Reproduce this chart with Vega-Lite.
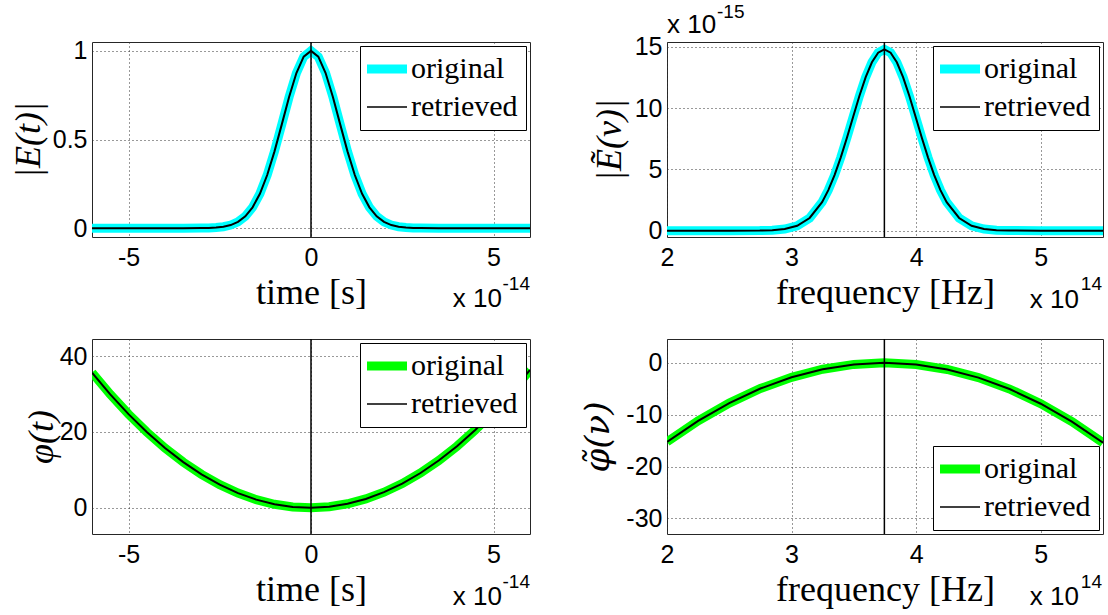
{
  "$schema": "https://vega.github.io/schema/vega-lite/v6.json",
  "autosize": {"type": "none"},
  "padding": {"left": 92, "top": 42, "right": 1016, "bottom": 573},
  "background": "white",
  "bounds": "flush",
  "columns": 2,
  "spacing": {"row": 102, "column": 137},
  "resolve": {"scale": {"color": "independent", "x": "independent", "y": "independent"}, "legend": {"color": "independent"}},
  "datasets": {
    "pulseTime": [
      {"t": -6, "original": 0, "retrieved": 0},
      {"t": -5, "original": 0, "retrieved": 0},
      {"t": -4, "original": 0, "retrieved": 0},
      {"t": -3.5, "original": 0.00003, "retrieved": 0.00003},
      {"t": -3, "original": 0.0005, "retrieved": 0.0005},
      {"t": -2.8, "original": 0.0014, "retrieved": 0.0014},
      {"t": -2.6, "original": 0.0035, "retrieved": 0.0035},
      {"t": -2.4, "original": 0.0081, "retrieved": 0.0081},
      {"t": -2.2, "original": 0.0174, "retrieved": 0.0174},
      {"t": -2, "original": 0.0352, "retrieved": 0.0352},
      {"t": -1.8, "original": 0.0665, "retrieved": 0.0665},
      {"t": -1.6, "original": 0.1174, "retrieved": 0.1174},
      {"t": -1.4, "original": 0.194, "retrieved": 0.194},
      {"t": -1.2, "original": 0.2997, "retrieved": 0.2997},
      {"t": -1, "original": 0.4331, "retrieved": 0.4331},
      {"t": -0.8, "original": 0.5853, "retrieved": 0.5853},
      {"t": -0.6, "original": 0.7399, "retrieved": 0.7399},
      {"t": -0.4, "original": 0.8747, "retrieved": 0.8747},
      {"t": -0.2, "original": 0.967, "retrieved": 0.967},
      {"t": 0, "original": 1, "retrieved": 1},
      {"t": 0.2, "original": 0.967, "retrieved": 0.967},
      {"t": 0.4, "original": 0.8747, "retrieved": 0.8747},
      {"t": 0.6, "original": 0.7399, "retrieved": 0.7399},
      {"t": 0.8, "original": 0.5853, "retrieved": 0.5853},
      {"t": 1, "original": 0.4331, "retrieved": 0.4331},
      {"t": 1.2, "original": 0.2997, "retrieved": 0.2997},
      {"t": 1.4, "original": 0.194, "retrieved": 0.194},
      {"t": 1.6, "original": 0.1174, "retrieved": 0.1174},
      {"t": 1.8, "original": 0.0665, "retrieved": 0.0665},
      {"t": 2, "original": 0.0352, "retrieved": 0.0352},
      {"t": 2.2, "original": 0.0174, "retrieved": 0.0174},
      {"t": 2.4, "original": 0.0081, "retrieved": 0.0081},
      {"t": 2.6, "original": 0.0035, "retrieved": 0.0035},
      {"t": 2.8, "original": 0.0014, "retrieved": 0.0014},
      {"t": 3, "original": 0.0005, "retrieved": 0.0005},
      {"t": 3.5, "original": 0.00003, "retrieved": 0.00003},
      {"t": 4, "original": 0, "retrieved": 0},
      {"t": 5, "original": 0, "retrieved": 0},
      {"t": 6, "original": 0, "retrieved": 0}
    ],
    "spectrum": [
      {"nu": 2.0, "original": 0, "retrieved": 0},
      {"nu": 2.5, "original": 0, "retrieved": 0},
      {"nu": 2.745, "original": 0.009, "retrieved": 0.009},
      {"nu": 2.845, "original": 0.037, "retrieved": 0.037},
      {"nu": 2.945, "original": 0.13, "retrieved": 0.13},
      {"nu": 3.045, "original": 0.395, "retrieved": 0.395},
      {"nu": 3.145, "original": 1.032, "retrieved": 1.032},
      {"nu": 3.245, "original": 2.329, "retrieved": 2.329},
      {"nu": 3.295, "original": 3.31, "retrieved": 3.31},
      {"nu": 3.345, "original": 4.532, "retrieved": 4.532},
      {"nu": 3.395, "original": 5.981, "retrieved": 5.981},
      {"nu": 3.445, "original": 7.606, "retrieved": 7.606},
      {"nu": 3.495, "original": 9.321, "retrieved": 9.321},
      {"nu": 3.545, "original": 11.01, "retrieved": 11.01},
      {"nu": 3.595, "original": 12.531, "retrieved": 12.531},
      {"nu": 3.645, "original": 13.745, "retrieved": 13.745},
      {"nu": 3.695, "original": 14.529, "retrieved": 14.529},
      {"nu": 3.745, "original": 14.8, "retrieved": 14.8},
      {"nu": 3.795, "original": 14.529, "retrieved": 14.529},
      {"nu": 3.845, "original": 13.745, "retrieved": 13.745},
      {"nu": 3.895, "original": 12.531, "retrieved": 12.531},
      {"nu": 3.945, "original": 11.01, "retrieved": 11.01},
      {"nu": 3.995, "original": 9.321, "retrieved": 9.321},
      {"nu": 4.045, "original": 7.606, "retrieved": 7.606},
      {"nu": 4.095, "original": 5.981, "retrieved": 5.981},
      {"nu": 4.145, "original": 4.532, "retrieved": 4.532},
      {"nu": 4.195, "original": 3.31, "retrieved": 3.31},
      {"nu": 4.245, "original": 2.329, "retrieved": 2.329},
      {"nu": 4.345, "original": 1.032, "retrieved": 1.032},
      {"nu": 4.445, "original": 0.395, "retrieved": 0.395},
      {"nu": 4.545, "original": 0.13, "retrieved": 0.13},
      {"nu": 4.645, "original": 0.037, "retrieved": 0.037},
      {"nu": 4.745, "original": 0.009, "retrieved": 0.009},
      {"nu": 5.0, "original": 0, "retrieved": 0},
      {"nu": 5.5, "original": 0, "retrieved": 0}
    ],
    "phaseTime": [
      {"t": -6, "original": 35.64, "retrieved": 35.64},
      {"t": -5.5, "original": 29.92, "retrieved": 29.92},
      {"t": -5, "original": 24.7, "retrieved": 24.7},
      {"t": -4.5, "original": 19.98, "retrieved": 19.98},
      {"t": -4, "original": 15.76, "retrieved": 15.76},
      {"t": -3.5, "original": 12.04, "retrieved": 12.04},
      {"t": -3, "original": 8.82, "retrieved": 8.82},
      {"t": -2.5, "original": 6.1, "retrieved": 6.1},
      {"t": -2, "original": 3.88, "retrieved": 3.88},
      {"t": -1.5, "original": 2.16, "retrieved": 2.16},
      {"t": -1, "original": 0.94, "retrieved": 0.94},
      {"t": -0.5, "original": 0.22, "retrieved": 0.22},
      {"t": 0, "original": 0, "retrieved": 0},
      {"t": 0.5, "original": 0.28, "retrieved": 0.28},
      {"t": 1, "original": 1.06, "retrieved": 1.06},
      {"t": 1.5, "original": 2.34, "retrieved": 2.34},
      {"t": 2, "original": 4.12, "retrieved": 4.12},
      {"t": 2.5, "original": 6.4, "retrieved": 6.4},
      {"t": 3, "original": 9.18, "retrieved": 9.18},
      {"t": 3.5, "original": 12.46, "retrieved": 12.46},
      {"t": 4, "original": 16.24, "retrieved": 16.24},
      {"t": 4.5, "original": 20.52, "retrieved": 20.52},
      {"t": 5, "original": 25.3, "retrieved": 25.3},
      {"t": 5.5, "original": 30.58, "retrieved": 30.58},
      {"t": 6, "original": 36.36, "retrieved": 36.36}
    ],
    "phaseSpec": [
      {"nu": 2.0, "original": -15.23, "retrieved": -15.23},
      {"nu": 2.25, "original": -11.18, "retrieved": -11.18},
      {"nu": 2.5, "original": -7.75, "retrieved": -7.75},
      {"nu": 2.75, "original": -4.95, "retrieved": -4.95},
      {"nu": 3.0, "original": -2.78, "retrieved": -2.78},
      {"nu": 3.25, "original": -1.23, "retrieved": -1.23},
      {"nu": 3.5, "original": -0.3, "retrieved": -0.3},
      {"nu": 3.745, "original": 0, "retrieved": 0},
      {"nu": 4.0, "original": -0.33, "retrieved": -0.33},
      {"nu": 4.25, "original": -1.28, "retrieved": -1.28},
      {"nu": 4.5, "original": -2.85, "retrieved": -2.85},
      {"nu": 4.75, "original": -5.05, "retrieved": -5.05},
      {"nu": 5.0, "original": -7.88, "retrieved": -7.88},
      {"nu": 5.25, "original": -11.33, "retrieved": -11.33},
      {"nu": 5.5, "original": -15.4, "retrieved": -15.4}
    ],
    "timeNotes": [
      {"center": 0, "tmax": 6, "base": "x 10", "power": "-14"}
    ],
    "freqNotes": [
      {"center": 3.745, "nmin": 2, "nmax": 5.5, "base": "x 10", "power": "14", "ypower": "-15"}
    ]
  },
  "concat": [
    {
      "width": 438,
      "height": 195,
      "layer": [
        {
          "data": {"name": "pulseTime"},
          "transform": [{"fold": ["original", "retrieved"], "as": ["series", "value"]}, {"filter": "datum.series === 'original'"}],
          "mark": {"type": "line", "strokeWidth": 9, "clip": true},
          "encoding": {
            "x": {"field": "t", "type": "quantitative", "scale": {"domain": [-6, 6], "nice": false, "zero": false},
                  "axis": {"values": [-5, 0, 5], "title": "time [s]", "titleY": 66, "titleBaseline": "alphabetic"}},
            "y": {"field": "value", "type": "quantitative", "scale": {"domain": [-0.05, 1.05], "nice": false, "zero": false},
                  "axis": {"values": [0, 0.5, 1], "title": "|E(t)|", "titleX": -64, "titleBaseline": "middle", "titleFontStyle": "italic"}},
            "color": {"field": "series", "type": "nominal",
                      "scale": {"domain": ["original", "retrieved"], "range": ["#00FFFF", "#000000"]},
                      "legend": {"title": null, "orient": "top-right",
                                 "encode": {"symbols": {"update": {"strokeWidth": {"signal": "datum.value === 'original' ? 9 : 1.5"}}}}}}
          }
        },
        {
          "data": {"name": "pulseTime"},
          "transform": [{"fold": ["original", "retrieved"], "as": ["series", "value"]}, {"filter": "datum.series === 'retrieved'"}],
          "mark": {"type": "line", "strokeWidth": 2, "clip": true},
          "encoding": {
            "x": {"field": "t", "type": "quantitative"},
            "y": {"field": "value", "type": "quantitative"},
            "color": {"field": "series", "type": "nominal"}
          }
        },
        {
          "data": {"name": "timeNotes"},
          "mark": {"type": "rule", "color": "black", "strokeWidth": 1.5},
          "encoding": {"x": {"field": "center", "type": "quantitative"}}
        },
        {
          "data": {"name": "timeNotes"},
          "mark": {"type": "text", "align": "right", "baseline": "alphabetic", "dx": -28, "dy": 70, "font": "Liberation Sans", "fontSize": 26, "fill": "black"},
          "encoding": {"x": {"field": "tmax", "type": "quantitative"}, "y": {"datum": -0.05}, "text": {"field": "base"}}
        },
        {
          "data": {"name": "timeNotes"},
          "mark": {"type": "text", "align": "right", "baseline": "alphabetic", "dx": 0, "dy": 53, "font": "Liberation Sans", "fontSize": 19, "fill": "black"},
          "encoding": {"x": {"field": "tmax", "type": "quantitative"}, "y": {"datum": -0.05}, "text": {"field": "power"}}
        }
      ]
    },
    {
      "width": 436,
      "height": 195,
      "layer": [
        {
          "data": {"name": "spectrum"},
          "transform": [{"fold": ["original", "retrieved"], "as": ["series", "value"]}, {"filter": "datum.series === 'original'"}],
          "mark": {"type": "line", "strokeWidth": 9, "clip": true},
          "encoding": {
            "x": {"field": "nu", "type": "quantitative", "scale": {"domain": [2, 5.5], "nice": false, "zero": false},
                  "axis": {"values": [2, 3, 4, 5], "title": "frequency [Hz]", "titleY": 66, "titleBaseline": "alphabetic"}},
            "y": {"field": "value", "type": "quantitative", "scale": {"domain": [-0.52, 15.4], "nice": false, "zero": false},
                  "axis": {"values": [0, 5, 10, 15], "title": "|Ẽ(ν)|", "titleX": -58, "titleBaseline": "middle", "titleFontStyle": "italic"}},
            "color": {"field": "series", "type": "nominal",
                      "scale": {"domain": ["original", "retrieved"], "range": ["#00FFFF", "#000000"]},
                      "legend": {"title": null, "orient": "top-right",
                                 "encode": {"symbols": {"update": {"strokeWidth": {"signal": "datum.value === 'original' ? 9 : 1.5"}}}}}}
          }
        },
        {
          "data": {"name": "spectrum"},
          "transform": [{"fold": ["original", "retrieved"], "as": ["series", "value"]}, {"filter": "datum.series === 'retrieved'"}],
          "mark": {"type": "line", "strokeWidth": 2, "clip": true},
          "encoding": {
            "x": {"field": "nu", "type": "quantitative"},
            "y": {"field": "value", "type": "quantitative"},
            "color": {"field": "series", "type": "nominal"}
          }
        },
        {
          "data": {"name": "freqNotes"},
          "mark": {"type": "rule", "color": "black", "strokeWidth": 1.5},
          "encoding": {"x": {"field": "center", "type": "quantitative"}}
        },
        {
          "data": {"name": "freqNotes"},
          "mark": {"type": "text", "align": "right", "baseline": "alphabetic", "dx": -24, "dy": 71, "font": "Liberation Sans", "fontSize": 26, "fill": "black"},
          "encoding": {"x": {"field": "nmax", "type": "quantitative"}, "y": {"datum": -0.52}, "text": {"field": "base"}}
        },
        {
          "data": {"name": "freqNotes"},
          "mark": {"type": "text", "align": "right", "baseline": "alphabetic", "dx": -1, "dy": 53, "font": "Liberation Sans", "fontSize": 19, "fill": "black"},
          "encoding": {"x": {"field": "nmax", "type": "quantitative"}, "y": {"datum": -0.52}, "text": {"field": "power"}}
        },
        {
          "data": {"name": "freqNotes"},
          "mark": {"type": "text", "align": "left", "baseline": "alphabetic", "dx": 0, "dy": -9, "font": "Liberation Sans", "fontSize": 26, "fill": "black"},
          "encoding": {"x": {"field": "nmin", "type": "quantitative"}, "y": {"datum": 15.4}, "text": {"field": "base"}}
        },
        {
          "data": {"name": "freqNotes"},
          "mark": {"type": "text", "align": "left", "baseline": "alphabetic", "dx": 50, "dy": -24, "font": "Liberation Sans", "fontSize": 19, "fill": "black"},
          "encoding": {"x": {"field": "nmin", "type": "quantitative"}, "y": {"datum": 15.4}, "text": {"field": "ypower"}}
        }
      ]
    },
    {
      "width": 438,
      "height": 195,
      "layer": [
        {
          "data": {"name": "phaseTime"},
          "transform": [{"fold": ["original", "retrieved"], "as": ["series", "value"]}, {"filter": "datum.series === 'original'"}],
          "mark": {"type": "line", "strokeWidth": 9, "clip": true},
          "encoding": {
            "x": {"field": "t", "type": "quantitative", "scale": {"domain": [-6, 6], "nice": false, "zero": false},
                  "axis": {"values": [-5, 0, 5], "title": "time [s]", "titleY": 66, "titleBaseline": "alphabetic"}},
            "y": {"field": "value", "type": "quantitative", "scale": {"domain": [-6.9, 44.5], "nice": false, "zero": false},
                  "axis": {"values": [0, 20, 40], "title": "φ(t)", "titleX": -51, "titleBaseline": "middle", "titleFontStyle": "italic"}},
            "color": {"field": "series", "type": "nominal",
                      "scale": {"domain": ["original", "retrieved"], "range": ["#00FF00", "#000000"]},
                      "legend": {"title": null, "orient": "top-right",
                                 "encode": {"symbols": {"update": {"strokeWidth": {"signal": "datum.value === 'original' ? 9 : 1.5"}}}}}}
          }
        },
        {
          "data": {"name": "phaseTime"},
          "transform": [{"fold": ["original", "retrieved"], "as": ["series", "value"]}, {"filter": "datum.series === 'retrieved'"}],
          "mark": {"type": "line", "strokeWidth": 2, "clip": true},
          "encoding": {
            "x": {"field": "t", "type": "quantitative"},
            "y": {"field": "value", "type": "quantitative"},
            "color": {"field": "series", "type": "nominal"}
          }
        },
        {
          "data": {"name": "timeNotes"},
          "mark": {"type": "rule", "color": "black", "strokeWidth": 1.5},
          "encoding": {"x": {"field": "center", "type": "quantitative"}}
        },
        {
          "data": {"name": "timeNotes"},
          "mark": {"type": "text", "align": "right", "baseline": "alphabetic", "dx": -28, "dy": 71, "font": "Liberation Sans", "fontSize": 26, "fill": "black"},
          "encoding": {"x": {"field": "tmax", "type": "quantitative"}, "y": {"datum": -6.9}, "text": {"field": "base"}}
        },
        {
          "data": {"name": "timeNotes"},
          "mark": {"type": "text", "align": "right", "baseline": "alphabetic", "dx": 0, "dy": 54, "font": "Liberation Sans", "fontSize": 19, "fill": "black"},
          "encoding": {"x": {"field": "tmax", "type": "quantitative"}, "y": {"datum": -6.9}, "text": {"field": "power"}}
        }
      ]
    },
    {
      "width": 436,
      "height": 195,
      "layer": [
        {
          "data": {"name": "phaseSpec"},
          "transform": [{"fold": ["original", "retrieved"], "as": ["series", "value"]}, {"filter": "datum.series === 'original'"}],
          "mark": {"type": "line", "strokeWidth": 9, "clip": true},
          "encoding": {
            "x": {"field": "nu", "type": "quantitative", "scale": {"domain": [2, 5.5], "nice": false, "zero": false},
                  "axis": {"values": [2, 3, 4, 5], "title": "frequency [Hz]", "titleY": 66, "titleBaseline": "alphabetic"}},
            "y": {"field": "value", "type": "quantitative", "scale": {"domain": [-33, 4.6], "nice": false, "zero": false},
                  "axis": {"values": [-30, -20, -10, 0], "title": "φ̃(ν)", "titleX": -69, "titleBaseline": "middle", "titleFontStyle": "italic", "titleFont": "DejaVu Serif", "titleFontSize": 34}},
            "color": {"field": "series", "type": "nominal",
                      "scale": {"domain": ["original", "retrieved"], "range": ["#00FF00", "#000000"]},
                      "legend": {"title": null, "orient": "bottom-right",
                                 "encode": {"symbols": {"update": {"strokeWidth": {"signal": "datum.value === 'original' ? 9 : 1.5"}}}}}}
          }
        },
        {
          "data": {"name": "phaseSpec"},
          "transform": [{"fold": ["original", "retrieved"], "as": ["series", "value"]}, {"filter": "datum.series === 'retrieved'"}],
          "mark": {"type": "line", "strokeWidth": 2, "clip": true},
          "encoding": {
            "x": {"field": "nu", "type": "quantitative"},
            "y": {"field": "value", "type": "quantitative"},
            "color": {"field": "series", "type": "nominal"}
          }
        },
        {
          "data": {"name": "freqNotes"},
          "mark": {"type": "rule", "color": "black", "strokeWidth": 1.5},
          "encoding": {"x": {"field": "center", "type": "quantitative"}}
        },
        {
          "data": {"name": "freqNotes"},
          "mark": {"type": "text", "align": "right", "baseline": "alphabetic", "dx": -24, "dy": 71, "font": "Liberation Sans", "fontSize": 26, "fill": "black"},
          "encoding": {"x": {"field": "nmax", "type": "quantitative"}, "y": {"datum": -33}, "text": {"field": "base"}}
        },
        {
          "data": {"name": "freqNotes"},
          "mark": {"type": "text", "align": "right", "baseline": "alphabetic", "dx": -1, "dy": 54, "font": "Liberation Sans", "fontSize": 19, "fill": "black"},
          "encoding": {"x": {"field": "nmax", "type": "quantitative"}, "y": {"datum": -33}, "text": {"field": "power"}}
        }
      ]
    }
  ],
  "config": {
    "view": {"stroke": "#262626", "strokeWidth": 1},
    "axis": {
      "domain": false,
      "ticks": false,
      "grid": true,
      "gridDash": [1, 3],
      "gridColor": "#333333",
      "gridWidth": 1,
      "labelFont": "Liberation Sans",
      "labelFontSize": 25,
      "labelColor": "black",
      "labelFlush": false,
      "labelOverlap": false,
      "labelExpr": "'' + datum.value",
      "titleFont": "Liberation Serif",
      "titleFontSize": 36,
      "titleFontWeight": "normal",
      "titleColor": "black"
    },
    "axisX": {"labelPadding": 8},
    "axisY": {"labelPadding": 5},
    "legend": {
      "offset": 4,
      "padding": 8,
      "fillColor": "white",
      "strokeColor": "black",
      "cornerRadius": 0,
      "symbolType": "stroke",
      "symbolSize": 1600,
      "symbolStrokeWidth": 2,
      "symbolOffset": 4,
      "labelFont": "Liberation Serif",
      "labelFontSize": 30,
      "labelColor": "black",
      "labelOffset": 9,
      "rowPadding": 5
    }
  }
}
